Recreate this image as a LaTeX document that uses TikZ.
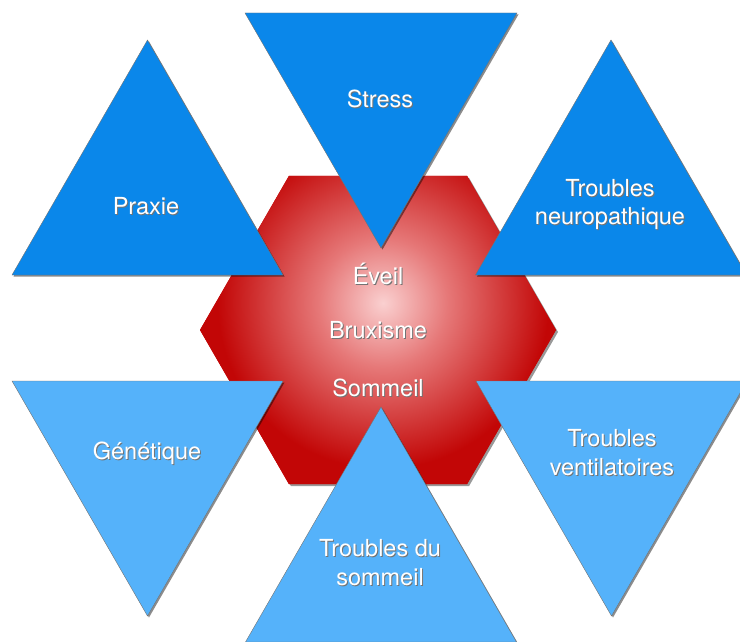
\documentclass[tikz,border=0pt]{standalone}
\usepackage{fontspec}
\setmainfont{TeX Gyre Heros}
\usetikzlibrary{shadows}
\definecolor{darkblue}{HTML}{0A87EA}
\definecolor{lightblue}{HTML}{55B2FA}
\definecolor{hexred}{HTML}{C20606}
\definecolor{hexmid}{HTML}{E67878}
\definecolor{hexcore}{HTML}{FAD0D0}
\pgfdeclareradialshading{bruxglow}{\pgfpoint{0bp}{0bp}}{color(0bp)=(hexcore); color(7bp)=(hexmid); color(18bp)=(hexred); color(50bp)=(hexred)}
\newcommand{\shtxt}[1]{\makebox[0pt][l]{\kern1pt\raisebox{-1pt}{\color{black!55}#1}}#1}

\begin{document}
\begin{tikzpicture}[x=1pt,y=-1pt,
  tri/.style = {draw=black!55, line width=0.4pt,
    drop shadow={shadow xshift=1.5pt, shadow yshift=-1.5pt, opacity=0.45, fill=black}},
  darktri/.style = {tri, fill=darkblue},
  lighttri/.style = {tri, fill=lightblue},
  word/.style = {text=white, align=center, inner sep=0pt,
    font=\fontsize{23.5}{28.5}\selectfont},]
\useasboundingbox (0,0) rectangle (740,642);
% hexagon
\path[fill=hexred, drop shadow={shadow xshift=2pt, shadow yshift=-2pt, opacity=0.4, fill=black}]
  (556,330) -- (467,175.8) -- (289,175.8) -- (200,330) -- (289,484.2) -- (467,484.2) -- cycle;
\begin{scope}
\clip (556,330) -- (467,175.8) -- (289,175.8) -- (200,330) -- (289,484.2) -- (467,484.2) -- cycle;
\shade[shading=bruxglow] (383,303) circle (230);
\end{scope}
% triangles
\draw[darktri] (12,275) -- (147.5,40) -- (283,275) -- cycle;
\draw[darktri] (245,13) -- (517,13) -- (381,248) -- cycle;
\draw[darktri] (475.5,275) -- (611,40) -- (746.5,275) -- cycle;
\draw[lighttri] (12,381) -- (283,381) -- (147.5,616) -- cycle;
\draw[lighttri] (245.5,642) -- (381,407) -- (516.5,642) -- cycle;
\draw[lighttri] (476,381) -- (747,381) -- (611.5,616) -- cycle;
% labels
\node (praxie) at (146,207) [word] {\shtxt{Praxie}};
\node (stress) at (380,99) [word] {\shtxt{Stress}};
\node (neuro) at (610,205) [word] {\shtxt{Troubles}\\\shtxt{neuropathique}};
\node (eveil) at (378,274) [word] {\shtxt{Éveil}};
\node (brux) at (378,331) [word] {\shtxt{Bruxisme}};
\node (somm) at (378,388) [word] {\shtxt{Sommeil}};
\node (gene) at (147,454) [word] {\shtxt{Génétique}};
\node (tsomm) at (380,563) [word] {\shtxt{Troubles du}\\\shtxt{sommeil}};
\node (venti) at (612,453) [word] {\shtxt{Troubles}\\\shtxt{ventilatoires}};
\end{tikzpicture}
\end{document}
